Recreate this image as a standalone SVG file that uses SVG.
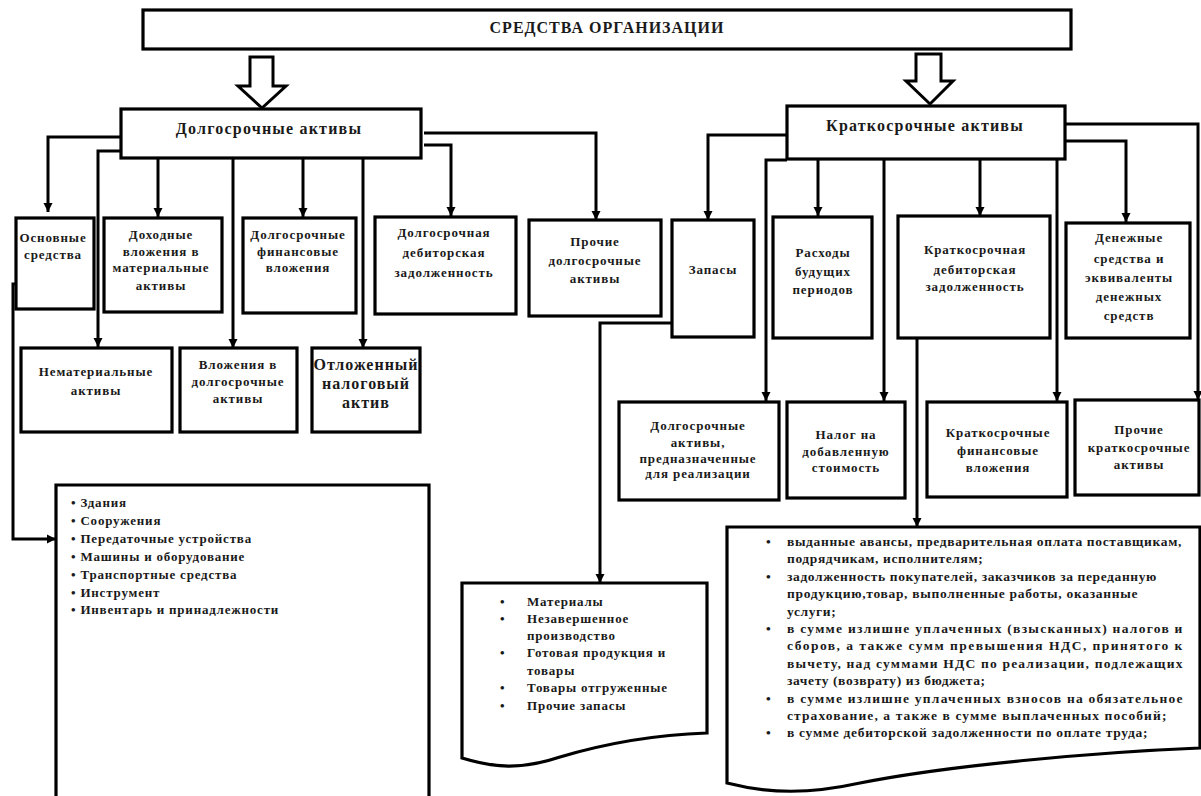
<svg xmlns="http://www.w3.org/2000/svg" width="1201" height="796" viewBox="0 0 1201 796">
  <style>
    .box { fill: #fff; stroke: #000; stroke-width: 3.2; }
    .ln { fill: none; stroke: #000; stroke-width: 3; }
    .hollow { fill: #fff; stroke: #000; stroke-width: 3; stroke-linejoin: miter; }
    text { font-family: "Liberation Serif", "Times New Roman", serif; font-weight: bold; fill: #1a1a1a; }
    .c { font-size: 13px; text-anchor: middle; letter-spacing: 0.9px; }
    .big { font-size: 16px; text-anchor: middle; letter-spacing: 1px; }
    .head { font-size: 16px; text-anchor: middle; letter-spacing: 1.2px; }
    .li { font-size: 13px; letter-spacing: 0.8px; }
    .dl { font-size: 13.5px; letter-spacing: 0.6px; }
  </style>
  <defs>
    <marker id="arr" markerUnits="userSpaceOnUse" markerWidth="10" markerHeight="10" refX="9" refY="5" orient="auto">
      <path d="M0,0.5 L9,5 L0,9.5 z" fill="#000"/>
    </marker>
  </defs>
  <rect width="1201" height="796" fill="#fff"/>

  <!-- connectors -->
  <g id="connectors" class="ln" marker-end="url(#arr)">
    <path d="M121,137 H48 V212"/>
    <path d="M121,151 H98 V347"/>
    <path d="M158,159 V217"/>
    <path d="M233,159 V348"/>
    <path d="M303,159 V217"/>
    <path d="M363,159 V348"/>
    <path d="M424,145 H451 V216"/>
    <path d="M424,133 H596 V220"/>
    <path d="M787,135 H708 V220"/>
    <path d="M787,160 H766 V401"/>
    <path d="M818,159 V216"/>
    <path d="M884,159 V401"/>
    <path d="M980,159 V216"/>
    <path d="M1057,159 V401"/>
    <path d="M1065,141 H1126 V222"/>
    <path d="M1065,124 H1198 V400"/>
    <path d="M17,284 H13 V539 H56"/>
    <path d="M672,323 H600 V583"/>
    <path d="M917,338 V527"/>
  </g>

  <!-- root -->
  <g id="root">
    <rect class="box" x="143" y="10" width="928" height="39"/>
    <text class="big" x="607" y="33">СРЕДСТВА ОРГАНИЗАЦИИ</text>
  </g>

  <!-- block arrows from the root -->
  <g id="split-left">
    <path class="hollow" d="M250,57 H273 V86 H286 L262,108 L238,86 H250 Z"/>
  </g>
  <g id="split-right">
    <path class="hollow" d="M916,54 H941 V81 H953 L930,104 L906,81 H916 Z"/>
  </g>

  <!-- long-term branch -->
  <g id="long-term">
    <rect class="box" x="121" y="109" width="300" height="49"/>
    <text class="head" x="269" y="134">Долгосрочные активы</text>
  </g>
  <g id="fixed-assets">
    <rect class="box" x="16" y="218" width="78" height="91"/>
    <text class="c" x="53" y="242">Основные</text>
    <text class="c" x="53" y="259">средства</text>
  </g>
  <g id="income-investments">
    <rect class="box" x="104" y="218" width="118" height="94"/>
    <text class="c" x="161" y="239">Доходные</text>
    <text class="c" x="161" y="256">вложения в</text>
    <text class="c" x="161" y="272">материальные</text>
    <text class="c" x="161" y="290">активы</text>
  </g>
  <g id="lt-financial">
    <rect class="box" x="243" y="218" width="113" height="95"/>
    <text class="c" x="298" y="239">Долгосрочные</text>
    <text class="c" x="298" y="256">финансовые</text>
    <text class="c" x="298" y="272">вложения</text>
  </g>
  <g id="lt-receivables">
    <rect class="box" x="375" y="217" width="141" height="97"/>
    <text class="c" x="444" y="237">Долгосрочная</text>
    <text class="c" x="444" y="257">дебиторская</text>
    <text class="c" x="444" y="277">задолженность</text>
  </g>
  <g id="lt-other">
    <rect class="box" x="529" y="220" width="132" height="96"/>
    <text class="c" x="595" y="246">Прочие</text>
    <text class="c" x="595" y="265">долгосрочные</text>
    <text class="c" x="595" y="283">активы</text>
  </g>
  <g id="intangibles">
    <rect class="box" x="21" y="348" width="151" height="84"/>
    <text class="c" x="96" y="376">Нематериальные</text>
    <text class="c" x="96" y="395">активы</text>
  </g>
  <g id="lt-investments">
    <rect class="box" x="180" y="348" width="117" height="84"/>
    <text class="c" x="238" y="369">Вложения в</text>
    <text class="c" x="238" y="386">долгосрочные</text>
    <text class="c" x="238" y="403">активы</text>
  </g>
  <g id="deferred-tax">
    <rect class="box" x="312" y="348" width="108" height="84"/>
    <text class="big" x="366" y="370">Отложенный</text>
    <text class="big" x="366" y="389">налоговый</text>
    <text class="big" x="366" y="408">актив</text>
  </g>

  <!-- short-term branch -->
  <g id="short-term">
    <rect class="box" x="787" y="106" width="278" height="53"/>
    <text class="head" x="925" y="131">Краткосрочные активы</text>
  </g>
  <g id="inventories">
    <rect class="box" x="672" y="220" width="82" height="117"/>
    <text class="c" x="713" y="274">Запасы</text>
  </g>
  <g id="deferred-expenses">
    <rect class="box" x="773" y="217" width="99" height="121"/>
    <text class="c" x="823" y="257">Расходы</text>
    <text class="c" x="823" y="276">будущих</text>
    <text class="c" x="823" y="294">периодов</text>
  </g>
  <g id="st-receivables">
    <rect class="box" x="898" y="216" width="152" height="122"/>
    <text class="c" x="975" y="254">Краткосрочная</text>
    <text class="c" x="975" y="274">дебиторская</text>
    <text class="c" x="975" y="291">задолженность</text>
  </g>
  <g id="cash">
    <rect class="box" x="1066" y="223" width="124" height="115"/>
    <text class="c" x="1129" y="242">Денежные</text>
    <text class="c" x="1129" y="263">средства и</text>
    <text class="c" x="1129" y="282">эквиваленты</text>
    <text class="c" x="1129" y="301">денежных</text>
    <text class="c" x="1129" y="320">средств</text>
  </g>
  <g id="held-for-sale">
    <rect class="box" x="619" y="402" width="160" height="98"/>
    <text class="c" x="698" y="430">Долгосрочные</text>
    <text class="c" x="698" y="447">активы,</text>
    <text class="c" x="698" y="463">предназначенные</text>
    <text class="c" x="698" y="478">для реализации</text>
  </g>
  <g id="vat">
    <rect class="box" x="787" y="402" width="118" height="96"/>
    <text class="c" x="846" y="439">Налог на</text>
    <text class="c" x="846" y="456">добавленную</text>
    <text class="c" x="846" y="472">стоимость</text>
  </g>
  <g id="st-financial">
    <rect class="box" x="927" y="402" width="140" height="95"/>
    <text class="c" x="998" y="437">Краткосрочные</text>
    <text class="c" x="998" y="455">финансовые</text>
    <text class="c" x="998" y="472">вложения</text>
  </g>
  <g id="st-other">
    <rect class="box" x="1075" y="400" width="124" height="95"/>
    <text class="c" x="1139" y="434">Прочие</text>
    <text class="c" x="1139" y="452">краткосрочные</text>
    <text class="c" x="1139" y="469">активы</text>
  </g>

  <!-- detail lists -->
  <g id="fixed-assets-list">
    <path class="box" d="M56,800 V485 H429 V800"/>
    <text class="li" x="71" y="507">• Здания</text>
    <text class="li" x="71" y="525">• Сооружения</text>
    <text class="li" x="71" y="543">• Передаточные устройства</text>
    <text class="li" x="71" y="561">• Машины и оборудование</text>
    <text class="li" x="71" y="579">• Транспортные средства</text>
    <text class="li" x="71" y="597">• Инструмент</text>
    <text class="li" x="71" y="614">• Инвентарь и принадлежности</text>
  </g>

  <g id="inventories-list">
    <path class="box" d="M462,583 H707 V733 C650,735 600,745 560,757 C520,770 495,768 462,758 Z"/>
    <text class="li" x="500" y="606">•</text>
    <text class="li" x="527" y="606">Материалы</text>
    <text class="li" x="500" y="623">•</text>
    <text class="li" x="527" y="623">Незавершенное</text>
    <text class="li" x="527" y="640">производство</text>
    <text class="li" x="500" y="657">•</text>
    <text class="li" x="527" y="657" letter-spacing="0.3">Готовая продукция и</text>
    <text class="li" x="527" y="675">товары</text>
    <text class="li" x="500" y="692">•</text>
    <text class="li" x="527" y="692">Товары отгруженные</text>
    <text class="li" x="500" y="710">•</text>
    <text class="li" x="527" y="710">Прочие запасы</text>
  </g>

  <g id="receivables-list">
    <path class="box" d="M727,527 H1200 V748 C1100,752 950,765 860,783 C810,794 770,794 727,783 Z"/>
    <text class="dl" x="766" y="546">•</text>
    <text class="dl" x="787" y="546" textLength="395" lengthAdjust="spacing">выданные авансы, предварительная оплата поставщикам,</text>
    <text class="dl" x="787" y="563">подрядчикам, исполнителям;</text>
    <text class="dl" x="766" y="581">•</text>
    <text class="dl" x="787" y="581" textLength="370" lengthAdjust="spacing">задолженность покупателей, заказчиков за переданную</text>
    <text class="dl" x="787" y="598" textLength="351" lengthAdjust="spacing">продукцию,товар, выполненные работы, оказанные</text>
    <text class="dl" x="787" y="616">услуги;</text>
    <text class="dl" x="766" y="633">•</text>
    <text class="dl" x="787" y="633" textLength="396" lengthAdjust="spacing">в сумме излишне уплаченных (взысканных) налогов и</text>
    <text class="dl" x="787" y="650" textLength="396" lengthAdjust="spacing">сборов, а также сумм превышения НДС, принятого к</text>
    <text class="dl" x="787" y="668" textLength="396" lengthAdjust="spacing">вычету, над суммами НДС по реализации, подлежащих</text>
    <text class="dl" x="787" y="685">зачету (возврату) из бюджета;</text>
    <text class="dl" x="766" y="703">•</text>
    <text class="dl" x="787" y="703" textLength="396" lengthAdjust="spacing">в сумме излишне уплаченных взносов на обязательное</text>
    <text class="dl" x="787" y="720" textLength="380" lengthAdjust="spacing">страхование, а также в сумме выплаченных пособий;</text>
    <text class="dl" x="766" y="737">•</text>
    <text class="dl" x="787" y="737" textLength="361" lengthAdjust="spacing">в сумме дебиторской задолженности по оплате труда;</text>
  </g>
</svg>
